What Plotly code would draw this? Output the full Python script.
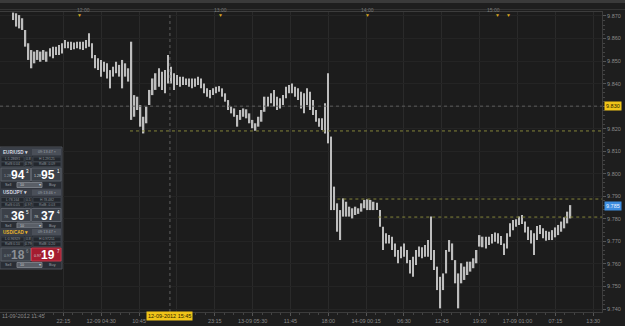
import plotly.graph_objects as go

# ---------------- data ----------------
high = [9.8715, 9.8712, 9.8704, 9.8690, 9.8638, 9.8579, 9.8549, 9.8542, 9.8549, 9.8542,
        9.8549, 9.8542, 9.8557, 9.8564, 9.8564, 9.8571, 9.8579, 9.8594, 9.8586, 9.8586,
        9.8582, 9.8586, 9.8586, 9.8586, 9.8594, 9.8623, 9.8579, 9.8527, 9.8512, 9.8505,
        9.8497, 9.8490, 9.8460, 9.8475, 9.8497, 9.8483, 9.8505, 9.8490, 9.8468, 9.8586,
        9.8349, 9.8342, 9.8305, 9.8253, 9.8298, 9.8372, 9.8423, 9.8446, 9.8468, 9.8453,
        9.8460, 9.8527, 9.8475, 9.8446, 9.8438, 9.8431, 9.8431, 9.8423, 9.8423, 9.8423,
        9.8423, 9.8431, 9.8423, 9.8401, 9.8379, 9.8372, 9.8379, 9.8386, 9.8389, 9.8379,
        9.8357, 9.8327, 9.8298, 9.8290, 9.8261, 9.8283, 9.8290, 9.8286, 9.8268, 9.8239,
        9.8224, 9.8253, 9.8283, 9.8342, 9.8342, 9.8357, 9.8372, 9.8342, 9.8335, 9.8349,
        9.8386, 9.8394, 9.8401, 9.8386, 9.8379, 9.8364, 9.8357, 9.8379, 9.8364, 9.8327,
        9.8283, 9.8246, 9.8246, 9.8313, 9.8446, 9.8165, 9.7943, 9.7869, 9.7839, 9.7891,
        9.7876, 9.7854, 9.7847, 9.7854, 9.7847, 9.7869, 9.7884, 9.7887, 9.7884, 9.7876,
        9.7872, 9.7839, 9.7765, 9.7736, 9.7728, 9.7721, 9.7691, 9.7662, 9.7677, 9.7691,
        9.7662, 9.7617, 9.7632, 9.7662, 9.7677, 9.7674, 9.7684, 9.7706, 9.7810, 9.7662,
        9.7588, 9.7543, 9.7558, 9.7662, 9.7706, 9.7691, 9.7617, 9.7558, 9.7603, 9.7588,
        9.7610, 9.7610, 9.7625, 9.7662, 9.7728, 9.7721, 9.7721, 9.7721, 9.7733, 9.7739,
        9.7736, 9.7724, 9.7691, 9.7736, 9.7780, 9.7795, 9.7798, 9.7810, 9.7817, 9.7788,
        9.7765, 9.7750, 9.7736, 9.7768, 9.7773, 9.7758, 9.7747, 9.7743, 9.7750, 9.7762,
        9.7773, 9.7788, 9.7807, 9.7832, 9.7861]

low = [9.8682, 9.8653, 9.8645, 9.8638, 9.8564, 9.8505, 9.8468, 9.8490, 9.8505, 9.8497,
       9.8505, 9.8497, 9.8520, 9.8512, 9.8527, 9.8527, 9.8534, 9.8557, 9.8557, 9.8549,
       9.8552, 9.8557, 9.8552, 9.8549, 9.8557, 9.8564, 9.8512, 9.8468, 9.8460, 9.8431,
       9.8453, 9.8423, 9.8379, 9.8431, 9.8446, 9.8431, 9.8379, 9.8431, 9.8409, 9.8239,
       9.8253, 9.8283, 9.8209, 9.8179, 9.8224, 9.8305, 9.8349, 9.8372, 9.8386, 9.8372,
       9.8357, 9.8401, 9.8401, 9.8372, 9.8394, 9.8386, 9.8394, 9.8394, 9.8386, 9.8379,
       9.8386, 9.8394, 9.8379, 9.8357, 9.8342, 9.8335, 9.8349, 9.8357, 9.8364, 9.8342,
       9.8320, 9.8283, 9.8268, 9.8253, 9.8209, 9.8239, 9.8253, 9.8246, 9.8224, 9.8202,
       9.8191, 9.8209, 9.8231, 9.8275, 9.8298, 9.8313, 9.8298, 9.8283, 9.8290, 9.8305,
       9.8335, 9.8357, 9.8357, 9.8342, 9.8327, 9.8290, 9.8268, 9.8305, 9.8283, 9.8261,
       9.8231, 9.8209, 9.8194, 9.8179, 9.8135, 9.7839, 9.7839, 9.7743, 9.7706, 9.7810,
       9.7810, 9.7810, 9.7802, 9.7817, 9.7822, 9.7832, 9.7847, 9.7839, 9.7839, 9.7839,
       9.7839, 9.7765, 9.7662, 9.7691, 9.7691, 9.7662, 9.7632, 9.7603, 9.7625, 9.7632,
       9.7603, 9.7558, 9.7543, 9.7595, 9.7632, 9.7625, 9.7632, 9.7632, 9.7617, 9.7573,
       9.7484, 9.7403, 9.7484, 9.7558, 9.7654, 9.7617, 9.7514, 9.7403, 9.7514, 9.7529,
       9.7551, 9.7566, 9.7581, 9.7603, 9.7677, 9.7674, 9.7669, 9.7684, 9.7691, 9.7699,
       9.7691, 9.7684, 9.7640, 9.7669, 9.7721, 9.7750, 9.7765, 9.7773, 9.7777, 9.7739,
       9.7706, 9.7691, 9.7640, 9.7706, 9.7733, 9.7714, 9.7703, 9.7706, 9.7706, 9.7718,
       9.7728, 9.7743, 9.7758, 9.7780, 9.7802]

# time position of each drawn bar (15-minute bar number, every second bar)
bar_index = list(range(0, 2 * len(high), 2))

tick_index = [33, 58, 83, 108, 133, 158, 183, 208, 233, 258, 283, 308, 333, 358, 383]
tick_text = ["22:15", "12-09 04:30", "10:45", "", "23:15", "13-09 05:30", "11:45", "18:00",
             "14-09 00:15", "06:30", "12:45", "19:00", "17-09 01:00", "07:15", "13:30"]
first_label = "11-09-2012 11:45"

crosshair_index = 103.4
crosshair_label = "12-09-2012 15:45"
crosshair_price = 9.830
last_price = 9.7855
last_price_label = "9.785"

level_prices = [9.8190, 9.7888, 9.7808]
level_start_index = [77, 214, 241]

top_labels = ["12:00", "13:00", "14:00", "15:00"]

# ---------------- figure ----------------
W, H = 625, 326
ML, MR, MT, MB = 0, 23, 12, 14
PW, PH = W - ML - MR, H - MT - MB
FONT = "Liberation Sans, Arial, sans-serif"


def px(x):
    return (x - ML) / PW


def py(y):
    return (MT + PH - y) / PH


fig = go.Figure()
fig.add_trace(go.Bar(
    x=bar_index,
    base=low,
    y=[h - l for h, l in zip(high, low)],
    width=0.95,
    marker=dict(color="#bdbdbd", line=dict(width=0)),
    hoverinfo="skip",
))

shapes = []
ann = []

# crosshair
shapes.append(dict(type="line", xref="x", yref="paper", x0=crosshair_index, x1=crosshair_index,
                   y0=0, y1=1, line=dict(color="#5e5e5e", width=1, dash="dot")))
shapes.append(dict(type="line", xref="paper", yref="y", x0=0, x1=1, y0=crosshair_price,
                   y1=crosshair_price, line=dict(color="#5e5e5e", width=1, dash="dot")))
# horizontal levels
for p, s in zip(level_prices, level_start_index):
    shapes.append(dict(type="line", xref="x", yref="y", x0=s, x1=388.8, y0=p, y1=p,
                       line=dict(color="#85853a", width=1, dash="dot")))

# top strips
shapes.append(dict(type="rect", xref="paper", yref="paper", x0=0, x1=px(W), y0=py(3), y1=py(0),
                   fillcolor="#3a3a3a", line=dict(width=0)))
shapes.append(dict(type="line", xref="paper", yref="paper", x0=0, x1=px(W), y0=py(9.5), y1=py(9.5),
                   line=dict(color="#333", width=1)))
for lab, x in zip(top_labels, [75, 220, 367, 502]):
    ann.append(dict(xref="paper", yref="paper", x=px(x), y=py(5.5), text=lab, showarrow=False,
                    font=dict(size=5, color="#7a7a7a", family=FONT)))
for x in [75, 220, 367, 502, 513]:
    ann.append(dict(xref="paper", yref="paper", x=px(x), y=py(9.5), text="▼", showarrow=False,
                    font=dict(size=5, color="#d9a520", family=FONT)))

# axis labels / tags
ann.append(dict(xref="paper", yref="paper", x=0, y=py(321), xanchor="left", text=first_label,
                showarrow=False, font=dict(size=5.5, color="#8a8a8a", family=FONT)))
ann.append(dict(xref="x", yref="paper", x=crosshair_index, y=py(320.5), text=crosshair_label,
                showarrow=False, bgcolor="#f0c419", borderpad=1,
                font=dict(size=5.5, color="#2a2200", family=FONT)))
ann.append(dict(xref="paper", yref="y", x=px(604), y=crosshair_price, xanchor="left",
                text="9.830", showarrow=False, bgcolor="#f0c419", borderpad=1,
                font=dict(size=5.5, color="#2a2200", family=FONT)))
ann.append(dict(xref="paper", yref="y", x=px(604), y=last_price, xanchor="left",
                text=last_price_label, showarrow=False, bgcolor="#3d8de0", borderpad=1,
                font=dict(size=5.5, color="#eaf2ff", family=FONT)))


# ---------------- trading panel overlay ----------------
def rect(x0, y0, x1, y1, fill, line=None):
    shapes.append(dict(type="rect", xref="paper", yref="paper", x0=px(x0), x1=px(x1),
                       y0=py(y1), y1=py(y0), fillcolor=fill, layer="above",
                       line=dict(color=line if line else fill, width=1 if line else 0)))


def text(x, y, s, size=4, color="#c8ccd2", anchor="left", bold=False):
    ann.append(dict(xref="paper", yref="paper", x=px(x), y=py(y), text=("<b>%s</b>" % s) if bold else s,
                    showarrow=False, xanchor=anchor, yanchor="middle", borderpad=0,
                    font=dict(size=size, color=color, family=FONT)))


tiles = [
    dict(top=148, name="EUR/USD", ncol="#d6dae0", time="09:13:47",
         r1=("L:1.28691", "0.8", "H:1.29125"), r2=("RolS:0.04", "0.79", "RolB:-0.09"),
         pre="1.28", sell="94", sup_s="3", buy="95", sup_b="1", dim=False, red=False),
    dict(top=188.5, name="USD/JPY", ncol="#d6dae0", time="09:13:46",
         r1=("L:78.164", "0.5", "H:78.482"), r2=("RolS:0.05", "0.97", "RolB:-0.03"),
         pre="78.", sell="36", sup_s="5", buy="37", sup_b="4", dim=False, red=False),
    dict(top=228, name="USD/CAD", ncol="#e8b628", time="09:13:47",
         r1=("L:0.96929", "0.8", "H:0.97251"), r2=("RolS:0.10", "0.79", "RolB:-0.20"),
         pre="0.97", sell="18", sup_s="6", buy="19", sup_b="7", dim=True, red=True),
]

rect(0, 147, 62, 269, "#2a2e35", "#4c5159")
for t in tiles:
    y0 = t["top"]
    rect(0.5, y0, 61.5, y0 + 8, "#3a3f48")
    text(2, y0 + 4.2, t["name"] + " ▾", size=4.6, color=t["ncol"], bold=True)
    rect(32, y0 + 1, 61, y0 + 7, "#4a4f58")
    text(46.5, y0 + 4.2, t["time"] + " ×", size=3.8, color="#9aa0a8", anchor="center")
    for i, row in enumerate([t["r1"], t["r2"]]):
        ya = y0 + 9 + i * 5
        for (xa, xb), s in zip([(1, 24), (25, 32), (33, 61)], row):
            rect(xa, ya, xb, ya + 4.6, "#23272d", "#3b4048")
            text((xa + xb) / 2, ya + 2.4, s, size=3.4, color="#8d939b", anchor="center")
    ya = y0 + 20
    rect(1, ya, 30.5, ya + 13, "#3b4048", "#5b6069")
    if t["red"]:
        rect(31.5, ya, 61, ya + 13, "#a41d30", "#c23a4a")
    else:
        rect(31.5, ya, 61, ya + 13, "#3b4048", "#5b6069")
    big_l = "#8c9096" if t["dim"] else "#ffffff"
    text(2.5, ya + 8, t["pre"], size=3.6, color="#9aa0a8")
    text(17.5, ya + 7, t["sell"], size=12, color=big_l, anchor="center", bold=True)
    text(27.5, ya + 3.5, t["sup_s"], size=4.5, color=big_l, anchor="center")
    text(33, ya + 8, t["pre"], size=3.6, color="#d0d4da")
    text(47.5, ya + 7, t["buy"], size=12, color="#ffffff", anchor="center", bold=True)
    text(58, ya + 3.5, t["sup_b"], size=4.5, color="#ffffff", anchor="center")
    ya = y0 + 34
    text(8, ya + 3, "Sell", size=3.8, color="#9aa0a8", anchor="center")
    rect(17, ya + 0.5, 42, ya + 5.5, "#5a5f67", "#777c84")
    text(19, ya + 3, "10", size=3.6, color="#c8ccd2")
    text(39.5, ya + 3, "▾", size=3.6, color="#c8ccd2", anchor="center")
    text(52, ya + 3, "Buy", size=3.8, color="#9aa0a8", anchor="center")

fig.update_layout(
    width=W, height=H,
    margin=dict(l=ML, r=MR, t=MT, b=MB),
    paper_bgcolor="#1e1e1e",
    plot_bgcolor="#1c1c1c",
    showlegend=False,
    hovermode=False,
    shapes=shapes,
    annotations=ann,
    font=dict(family=FONT, size=6, color="#8a8a8a"),
    xaxis=dict(
        range=[-8.85, 388.8],
        tickmode="array", tickvals=tick_index, ticktext=tick_text,
        ticks="outside", ticklen=3, tickcolor="#555", tickfont=dict(size=5.5, color="#8a8a8a"),
        showgrid=True, gridcolor="#2a2a2a", gridwidth=1, zeroline=False,
        showline=True, linecolor="#3c3c3c", mirror=True,
        minor=dict(tickmode="linear", tick0=8, dtick=6.25, ticks="outside", ticklen=2,
                   tickcolor="#444", showgrid=False),
        fixedrange=True,
    ),
    yaxis=dict(
        range=[9.73868, 9.87177], side="right",
        tickmode="linear", tick0=9.74, dtick=0.01, tickformat=".3f",
        ticks="outside", ticklen=3, tickcolor="#555", tickfont=dict(size=5.5, color="#8a8a8a"),
        showgrid=True, gridcolor="#242424", gridwidth=1, zeroline=False,
        showline=True, linecolor="#3c3c3c", mirror=True,
        minor=dict(tickmode="linear", tick0=9.74, dtick=0.002, ticks="outside", ticklen=2,
                   tickcolor="#444", showgrid=False),
        fixedrange=True,
    ),
)

fig.write_html("out.html")
